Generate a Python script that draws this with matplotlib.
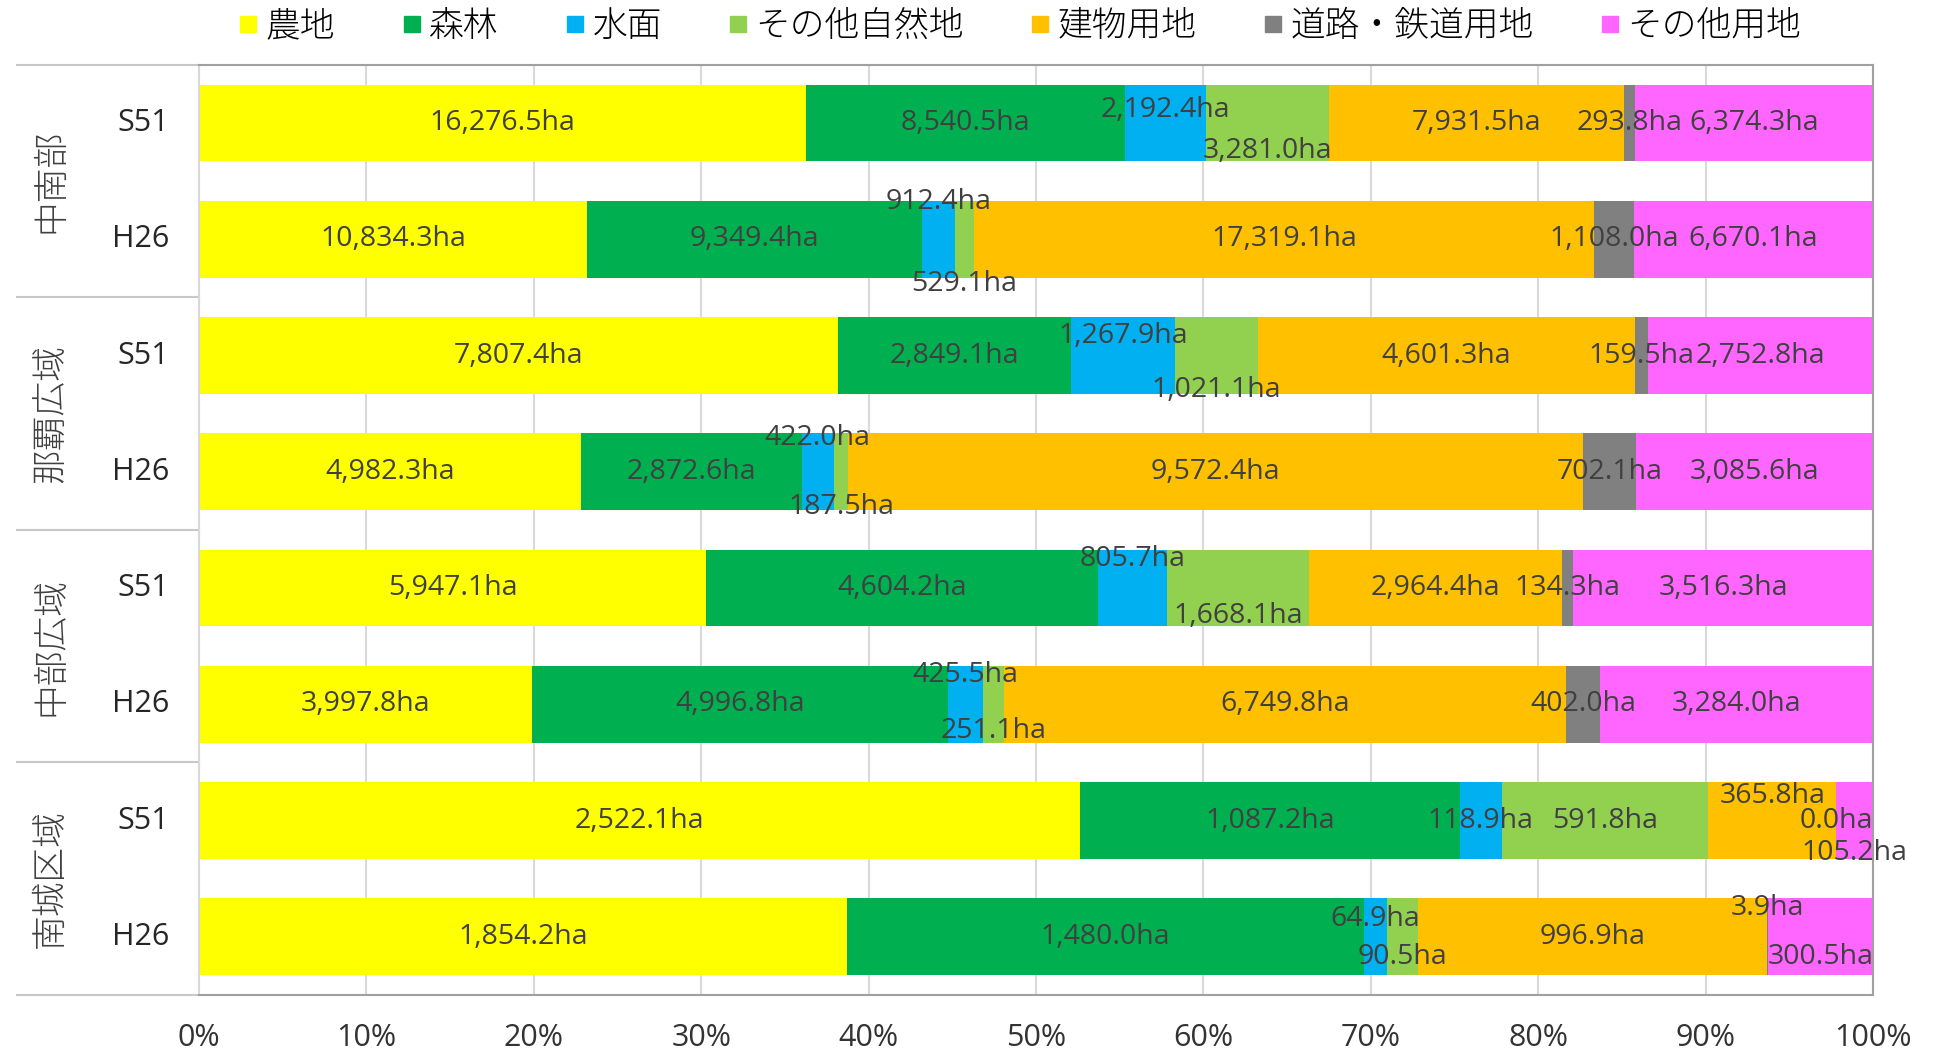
import numpy as np
import matplotlib.pyplot as plt
from matplotlib.lines import Line2D
from matplotlib.ticker import PercentFormatter

plt.rcParams['font.family'] = ['Open Sans', 'Noto Sans CJK JP', 'DejaVu Sans']

regions = ['中南部', '那覇広域', '中部広域', '南城区域']
years = ['S51', 'H26']
categories = ['農地', '森林', '水面', 'その他自然地', '建物用地', '道路・鉄道用地', 'その他用地']
colors = ['#FFFF00', '#00B050', '#00B0F0', '#92D050', '#FFC000', '#808080', '#FF66FF']

# one row per bar, top to bottom (ha)
chunan_s51 = [16276.5, 8540.5, 2192.4, 3281.0, 7931.5, 293.8, 6374.3]
chunan_h26 = [10834.3, 9349.4, 912.4, 529.1, 17319.1, 1108.0, 6670.1]
naha_s51 = [7807.4, 2849.1, 1267.9, 1021.1, 4601.3, 159.5, 2752.8]
naha_h26 = [4982.3, 2872.6, 422.0, 187.5, 9572.4, 702.1, 3085.6]
chubu_s51 = [5947.1, 4604.2, 805.7, 1668.1, 2964.4, 134.3, 3516.3]
chubu_h26 = [3997.8, 4996.8, 425.5, 251.1, 6749.8, 402.0, 3284.0]
nanjo_s51 = [2522.1, 1087.2, 118.9, 591.8, 365.8, 0.0, 105.2]
nanjo_h26 = [1854.2, 1480.0, 64.9, 90.5, 996.9, 3.9, 300.5]

rows = [chunan_s51, chunan_h26, naha_s51, naha_h26,
        chubu_s51, chubu_h26, nanjo_s51, nanjo_h26]

# manual vertical shifts of crowded labels: (row, category) -> offset in bar units
label_shift = {
    (0, 2): -0.11, (0, 3): 0.24,
    (1, 2): -0.32, (1, 3): 0.38,
    (2, 2): -0.17, (2, 3): 0.30,
    (3, 2): -0.29, (3, 3): 0.30,
    (4, 2): -0.25, (4, 3): 0.24,
    (5, 2): -0.25, (5, 3): 0.23,
    (6, 4): -0.21, (6, 6): 0.28,
    (7, 2): -0.15, (7, 3): 0.17, (7, 5): -0.25, (7, 6): 0.17,
}

data = np.array(rows)
share = data / data.sum(axis=1, keepdims=True)
y = np.arange(len(rows))

fig = plt.figure(figsize=(19.46, 10.53), dpi=100)
ax = fig.add_axes([0.1023, 0.0551, 0.8602, 0.8832])

left = np.zeros(len(rows))
for j, cat in enumerate(categories):
    ax.barh(y, share[:, j], left=left, height=0.66, color=colors[j], zorder=2)
    for i in range(len(rows)):
        xc = left[i] + share[i, j] / 2
        ax.text(xc, y[i] + label_shift.get((i, j), 0), f'{data[i, j]:,.1f}ha',
                ha='center', va='center', fontsize=20.5, color='#404040', zorder=3)
    left += share[:, j]

ax.set_xlim(0, 1)
ax.set_ylim(len(rows) - 0.5, -0.5)
ax.xaxis.set_major_locator(plt.MultipleLocator(0.1))
ax.xaxis.set_major_formatter(PercentFormatter(1, decimals=0))
ax.grid(axis='x', color='#d9d9d9', linewidth=1.5, zorder=0)
ax.tick_params(axis='x', length=0, labelsize=22, pad=20, colors='#333333')
ax.set_yticks([])
for s in ['top', 'right', 'bottom']:
    ax.spines[s].set_color('#a0a0a0')
    ax.spines[s].set_linewidth(1.5)
ax.spines['left'].set_color('#d9d9d9')
ax.spines['left'].set_linewidth(1.5)

# category axis labels: year + region with separators
trans = ax.get_yaxis_transform()
for i in range(len(rows)):
    ax.text(-0.018, y[i], years[i % 2], transform=trans, ha='right', va='center',
            fontsize=22, color='#262626')
for g, reg in enumerate(regions):
    ax.text(-0.089, 2 * g + 0.5, reg, transform=trans, ha='center', va='center',
            rotation=90, fontsize=25, color='#404040', family='Noto Sans CJK JP',
            fontweight='light')
for b in [-0.5, 1.5, 3.5, 5.5, 7.5]:
    ax.plot([-0.109, 0], [b, b], transform=trans, color='#c8c8c8', linewidth=1.5,
            clip_on=False)

handles = [Line2D([], [], marker='s', linestyle='none', markersize=12,
                  markerfacecolor=c, markeredgecolor=c) for c in colors]
fig.legend(handles, categories, loc='center', bbox_to_anchor=(0.524, 0.975), ncol=7,
           frameon=False, handlelength=0.6, handletextpad=0.2, columnspacing=1.9,
           prop={'family': 'Noto Sans CJK JP', 'size': 25, 'weight': 'light'})

fig.savefig('out.png', dpi=100)
